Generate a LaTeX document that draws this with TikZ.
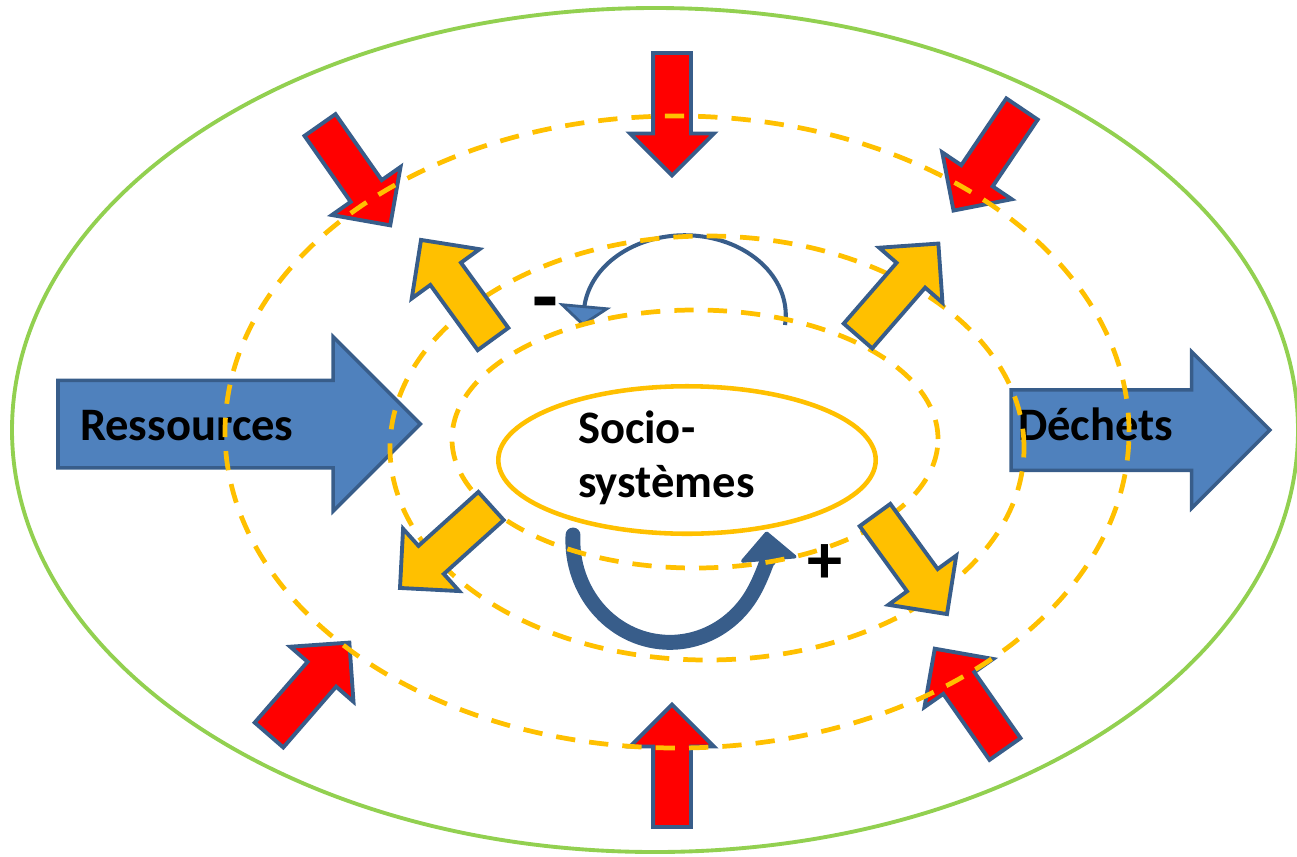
\documentclass[tikz,border=0pt]{standalone}
\usepackage{fontspec}
\setmainfont{Carlito}
\usetikzlibrary{shapes.arrows, shapes.geometric, arrows.meta}

\definecolor{bluefill}{HTML}{4F81BD}
\definecolor{bluedark}{HTML}{385D8A}
\definecolor{gold}{HTML}{FFC000}
\definecolor{leafgreen}{HTML}{92D050}

\begin{document}
\begin{tikzpicture}[
                x=0.02cm, y=0.02cm,
                every node/.style={inner sep=0pt, outer sep=0pt},
                flowarrow/.style={draw=bluedark, line width=2pt, fill=bluefill, single arrow, anchor=tail},
                inarrow/.style={draw=bluedark, line width=2.2pt, fill=red, single arrow, anchor=tail,
                    inner ysep=0.34cm, minimum height=2.45cm, minimum width=1.6cm,
                    single arrow head extend=0.46cm},
                outarrow/.style={inarrow, fill=gold},
                ring/.style={draw=gold, line width=2.7pt, dash pattern=on 11pt off 8pt},
                lbl/.style={font=\fontsize{26.5}{30.6}\selectfont\bfseries},
                sign/.style={font=\fontsize{40}{40}\selectfont\bfseries}
            ]

                \useasboundingbox (0, 0) rectangle (1297, -856);
                \draw[leafgreen, line width=2.2pt] (655, -430) ellipse [x radius=643, y radius=422];

                % pressures from outside
                \foreach \dir/\x/\y/\ang in {n/672/53/-90, s/672/827/90, nw/320/125/-55,
                                             ne/1022/109/-124, sw/269/735/49, se/1005/749/125} {
                    \node[inarrow, rotate=\ang] (in-\dir) at (\x, -\y) {};
                }

                \node[flowarrow, inner ysep=0.84cm, minimum height=7.25cm, minimum width=3.42cm,
                      single arrow head extend=0.87cm] (res) at (58, -424) {};
                \node[flowarrow, inner ysep=0.77cm, minimum height=5.18cm, minimum width=3.06cm,
                      single arrow head extend=0.76cm] (dech) at (1011, -430) {};
                \node[lbl, anchor=base west] (res-text) at (80, -440) {Ressources};
                \node[lbl, anchor=base west] (dech-text) at (1018, -440) {Déchets};

                % feedback loops
                \coordinate (neg-start) at (785, -325);
                \coordinate (pos-start) at (573, -535);
                \draw[bluedark, line width=2.3pt,
                      -{Triangle[width=1.05cm, length=0.42cm, line width=1.6pt, fill=bluefill]}]
                    (neg-start) arc[start angle=-7, end angle=180, x radius=101, y radius=80]
                    -- ++(-1, -11);
                \draw[bluedark, line width=8.5pt, line cap=round,
                      -{Triangle[width=1.2cm, length=0.6cm, line width=2pt, round]}]
                    (pos-start) arc[start angle=177, end angle=365, x radius=97, y radius=102];
                \node[sign, font=\fontsize{48}{48}\selectfont\bfseries, anchor=base] (minus) at (545, -325) {-};
                \node[sign, anchor=base] (plus) at (825, -583) {+};

                \draw[ring] (677, -432) ellipse [x radius=452, y radius=316];
                \draw[ring] (707, -448) ellipse [x radius=317, y radius=212];
                \draw[ring] (695, -439) ellipse [x radius=243, y radius=129];

                % effects going out
                \foreach \dir/\x/\y/\ang in {nw/493/339/126, ne/858/336/49,
                                             sw/491/506/-138, se/875/515/-54} {
                    \node[outarrow, rotate=\ang] (out-\dir) at (\x, -\y) {};
                }

                \node[draw=gold, line width=2.6pt, ellipse, minimum width=7.55cm,
                      minimum height=2.95cm] (socio) at (687, -460) {};
                \node[lbl, align=left, anchor=base west] (socio-text) at (578, -497) {Socio-\\systèmes};
            \end{tikzpicture}
\end{document}
